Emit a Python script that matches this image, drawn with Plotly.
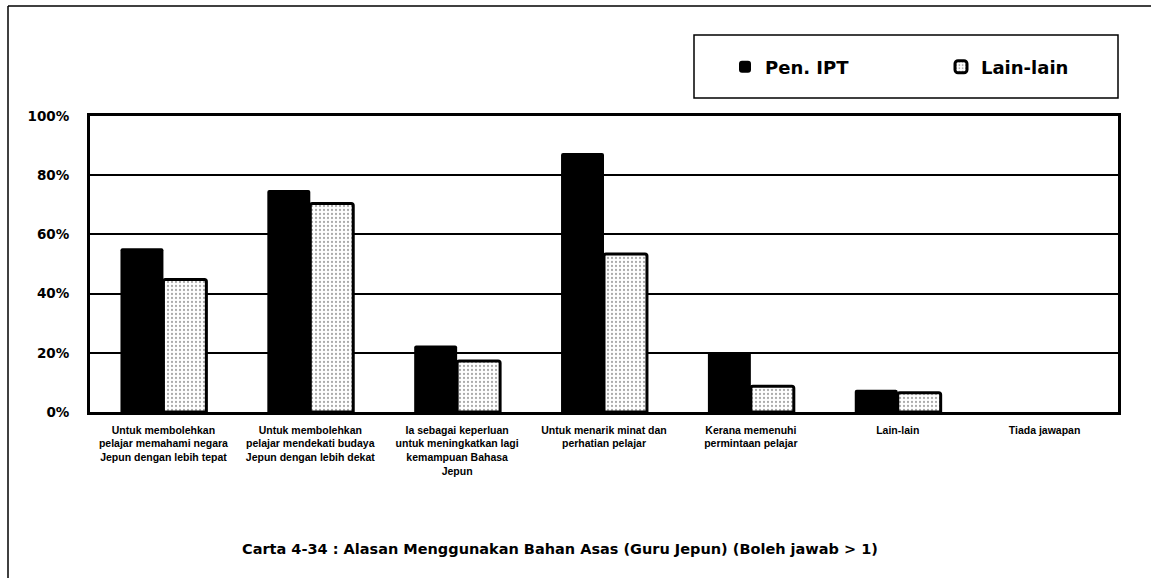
import plotly.graph_objects as go

# Reasons for using the main teaching material (Japanese teachers)
categories = [
    "Untuk membolehkan<br>pelajar memahami negara<br>Jepun dengan lebih tepat",
    "Untuk membolehkan<br>pelajar mendekati budaya<br>Jepun dengan lebih dekat",
    "Ia sebagai keperluan<br>untuk meningkatkan lagi<br>kemampuan Bahasa<br>Jepun",
    "Untuk menarik minat dan<br>perhatian pelajar",
    "Kerana memenuhi<br>permintaan pelajar",
    "Lain-lain",
    "Tiada jawapan",
]
pen_ipt = [55.3, 75.0, 22.5, 87.5, 20.3, 7.5, 0]
lain_lain = [44.8, 70.4, 17.2, 53.4, 8.7, 6.5, 0]
y_ticks = [0, 20, 40, 60, 80, 100]
y_tick_text = [f"{v}%" for v in y_ticks]

W, H = 1151, 578
ML, MR, MT, MB = 90, 33, 116, 166
PW, PH = W - ML - MR, H - MT - MB
BOLD_FONT = "DejaVu Sans"


def px_x(p):
    return (p - ML) / PW


def px_y(p):
    return (H - MB - p) / PH


fig = go.Figure()
fig.add_trace(go.Bar(
    name="Pen. IPT", x=categories, y=pen_ipt, legend="legend",
    marker=dict(color="black", line=dict(color="black", width=0)),
))
fig.add_trace(go.Bar(
    name="Lain-lain", x=categories, y=lain_lain, legend="legend2",
    marker=dict(
        color="white",
        line=dict(color="black", width=[3 if v > 0 else 0 for v in lain_lain]),
        pattern=dict(shape=".", fgcolor="#555555", bgcolor="white",
                     size=4, solidity=0.25),
    ),
))

# Outer frame (left and top edges) and legend box
fig.add_shape(type="line", xref="paper", yref="paper",
              x0=px_x(8), x1=px_x(8), y0=px_y(6), y1=px_y(H),
              line=dict(color="black", width=1.5))
fig.add_shape(type="line", xref="paper", yref="paper",
              x0=px_x(8), x1=px_x(W), y0=px_y(6), y1=px_y(6),
              line=dict(color="black", width=1.5))
fig.add_shape(type="rect", xref="paper", yref="paper",
              x0=px_x(694), x1=px_x(1118), y0=px_y(98), y1=px_y(35),
              line=dict(color="black", width=1.5), fillcolor="white", layer="below")

fig.add_annotation(
    text="<b>Carta 4-34 : Alasan Menggunakan Bahan Asas (Guru Jepun) (Boleh jawab > 1)</b>",
    xref="paper", yref="paper", x=px_x(560), y=px_y(549),
    xanchor="center", yanchor="middle", showarrow=False,
    font=dict(family=BOLD_FONT, size=14.5, color="black"),
)

legend_font = dict(family=BOLD_FONT, size=18, color="black", weight="bold")
fig.update_layout(
    width=W, height=H,
    margin=dict(l=ML, r=MR, t=MT, b=MB, autoexpand=False),
    paper_bgcolor="white", plot_bgcolor="white",
    barmode="group", bargap=0.415, bargroupgap=0,
    barcornerradius=2,
    font=dict(family="Arial", color="black"),
    showlegend=True,
    legend=dict(
        orientation="h", x=px_x(725), y=px_y(67),
        xanchor="left", yanchor="middle",
        bgcolor="rgba(0,0,0,0)", borderwidth=0, font=legend_font,
    ),
    legend2=dict(
        orientation="h", x=px_x(941), y=px_y(67),
        xanchor="left", yanchor="middle",
        bgcolor="rgba(0,0,0,0)", borderwidth=0, font=legend_font,
    ),
)
fig.update_xaxes(
    showline=True, linecolor="black", linewidth=3, mirror=True,
    showgrid=False, ticks="", ticklabelstandoff=6,
    tickfont=dict(family="Arial", size=10.5, color="black", weight="bold"),
    tickangle=0,
)
fig.update_yaxes(
    range=[0, 100], tickvals=y_ticks, ticktext=y_tick_text,
    showline=True, linecolor="black", linewidth=3, mirror=True,
    showgrid=True, gridcolor="black", gridwidth=1.6,
    ticks="", ticklabelstandoff=15,
    tickfont=dict(family=BOLD_FONT, size=13.5, color="black", weight="bold"),
    zeroline=False,
)

fig.write_html("out.html")
